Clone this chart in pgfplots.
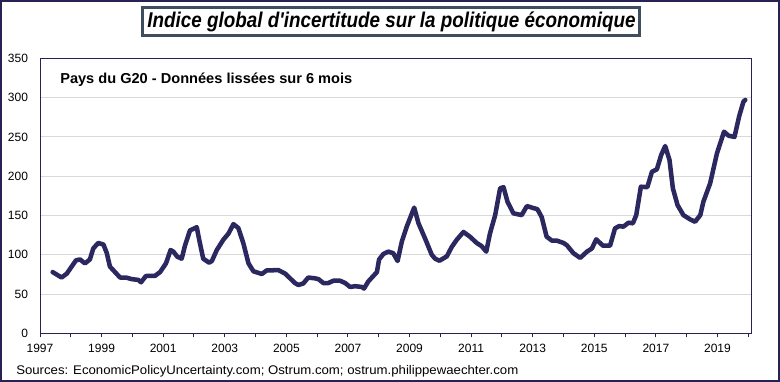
\documentclass[border=0pt]{standalone}
\usepackage{pgfplots}
\pgfplotsset{compat=1.18}
\usepackage{pgfplotstable}
\usepackage{fontspec}
\setmainfont{Liberation Sans}
\usepackage{graphicx}

\definecolor{serie}{RGB}{43,40,96}
\definecolor{cadre}{RGB}{38,34,84}
\definecolor{titrebord}{RGB}{62,78,94}
\definecolor{grille}{RGB}{217,217,217}

\pgfplotstableread{
year val
1997.41 78
1997.70 71
1997.87 76
1998.17 93
1998.30 94
1998.46 89
1998.62 94
1998.73 108
1998.89 115
1999.06 113
1999.17 102
1999.27 85
1999.60 71
1999.79 71
1999.98 69
2000.19 68
2000.28 65
2000.44 73
2000.73 73
2000.90 78
2001.09 89
2001.24 106
2001.33 104
2001.46 97.5
2001.60 95
2001.71 112
2001.87 131
2002.09 135
2002.17 119
2002.30 95
2002.49 90
2002.58 92
2002.74 106
2002.95 119
2003.12 127
2003.28 139
2003.44 134
2003.60 115
2003.77 89
2003.93 79
2004.20 75.5
2004.36 80
2004.74 80.5
2004.96 76
2005.28 64
2005.39 61.5
2005.55 63.5
2005.71 71
2005.93 70
2006.04 69
2006.20 64
2006.36 64
2006.53 67
2006.74 67
2006.91 64
2007.07 59
2007.23 60
2007.45 59
2007.52 57
2007.66 66
2007.94 78
2008.01 94
2008.15 101
2008.31 104
2008.47 102
2008.61 92
2008.75 117
2008.91 136
2009.15 160
2009.29 140
2009.50 121
2009.72 100
2009.83 95
2009.97 92.4
2010.21 98
2010.37 110
2010.53 119
2010.75 129
2010.96 123
2011.18 115
2011.34 111
2011.49 104
2011.61 127
2011.78 150.5
2011.94 184.6
2012.05 186
2012.18 167.5
2012.37 152.7
2012.64 150.5
2012.81 162
2012.97 160
2013.15 158
2013.29 148
2013.45 123
2013.62 118
2013.78 118
2014.00 115
2014.11 112
2014.32 102
2014.54 96
2014.76 104
2014.92 108
2015.06 119.6
2015.28 111.5
2015.51 111.5
2015.67 133.6
2015.81 136.6
2015.94 135.7
2016.11 140.8
2016.25 140
2016.36 150.5
2016.51 186.6
2016.72 186
2016.87 205.7
2017.03 208.7
2017.17 227
2017.30 238.4
2017.44 220.6
2017.55 184.5
2017.70 163.3
2017.89 150.5
2018.11 145
2018.27 142
2018.44 150.5
2018.54 167.5
2018.76 191
2018.98 229
2019.21 256.6
2019.36 251.5
2019.55 250
2019.70 276
2019.84 294.8
2019.90 297
}\datatable

\begin{document}
\begin{tikzpicture}
\path[use as bounding box] (0,0) rectangle (585bp,286.5bp);
\fill[white] (0,0) rectangle (585bp,286.5bp);
\draw[cadre, line width=1.5bp] (0.75bp,0.75bp) rectangle (584.25bp,285.75bp);
\begin{axis}[
  at={(30bp,36.5bp)}, anchor=south west,
  scale only axis, width=533.8bp, height=206.25bp,
  xmin=1997, xmax=2020.11, ymin=0, ymax=350,
  xtick={1997,...,2020},
  xticklabels={1997,,1999,,2001,,2003,,2005,,2007,,2009,,2011,,2013,,2015,,2017,,2019,},
  ytick={0,50,...,350},
  ymajorgrids,
  major grid style={grille, line width=0.75bp},
  axis line style={cadre, line width=0.75bp},
  tick align=outside,
  xtick pos=bottom,
  ytick pos=left,
  major tick length=3bp,
  xtick style={cadre, line width=0.75bp},
  ytick style={draw=none},
  /pgf/number format/assume math mode=true,
  tick label style={font=\fontsize{9bp}{10bp}\selectfont, text=black},
  yticklabel style={anchor=east, inner sep=0pt, xshift=-5.8bp},
  xticklabel style={anchor=north, inner sep=0pt, yshift=-4.8bp},
  axis background/.style={fill=white},
]
\addplot[serie, line width=3.4bp, line join=round, line cap=round] table[x=year,y=val]{\datatable};
\end{axis}
\node[draw=titrebord, line width=2.25bp, fill=white, minimum width=372.75bp, minimum height=21bp, inner sep=0pt] at (293.6bp,270bp)
  {\resizebox{366bp}{\height}{\fontsize{16bp}{18bp}\selectfont\bfseries\itshape Indice global d\textquotesingle incertitude sur la politique économique}};
\node[anchor=base west, inner sep=0pt] at (45bp,224bp)
  {\resizebox{219bp}{\height}{\fontsize{10.8bp}{12bp}\selectfont\bfseries Pays du G20 - Données lissées sur 6 mois}};
\node[anchor=base west, inner sep=0pt] at (12bp,5.3bp)
  {\resizebox{376.5bp}{\height}{\fontsize{9.4bp}{11bp}\selectfont Sources: EconomicPolicyUncertainty.com; Ostrum.com; ostrum.philippewaechter.com}};
\end{tikzpicture}
\end{document}
